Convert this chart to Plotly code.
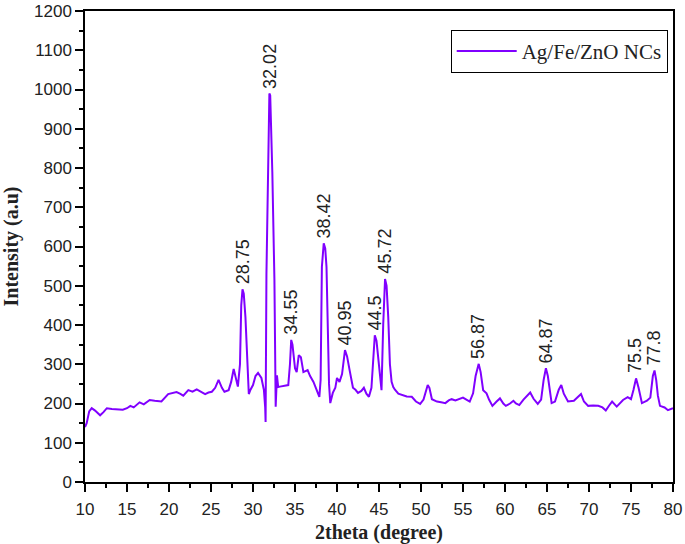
import plotly.graph_objects as go

two_theta = [10.0, 10.2, 10.5, 10.8, 11.2, 11.8, 12.2, 12.6, 13.2, 13.8, 14.5, 15.0, 15.4, 15.8,
             16.5, 17.0, 17.7, 18.3, 19.1, 19.9, 20.4, 20.9, 21.3, 21.7, 22.3, 22.8, 23.3, 23.8,
             24.3, 24.7, 25.1, 25.5, 25.9, 26.3, 26.6, 27.1, 27.4, 27.7, 27.9, 28.2, 28.45, 28.6,
             28.75, 28.9, 29.1, 29.3, 29.5, 29.7, 30.0, 30.3, 30.6, 31.0, 31.3, 31.45, 31.5, 31.6,
             31.8, 31.95, 32.05, 32.3, 32.55, 32.7, 32.85, 33.0, 33.2, 33.6, 34.0, 34.2, 34.4, 34.55,
             34.7, 35.0, 35.2, 35.45, 35.7, 36.0, 36.5, 36.8, 37.2, 37.6, 37.9, 38.05, 38.2, 38.42,
             38.6, 38.75, 38.9, 39.05, 39.2, 39.5, 39.8, 40.0, 40.3, 40.6, 40.95, 41.2, 41.5, 41.9,
             42.2, 42.5, 42.9, 43.2, 43.5, 43.8, 44.1, 44.3, 44.5, 44.7, 44.9, 45.1, 45.3, 45.5,
             45.72, 45.9, 46.1, 46.3, 46.5, 46.7, 46.9, 47.3, 47.7, 48.3, 48.9, 49.4, 49.9, 50.3,
             50.8, 51.0, 51.3, 51.9, 52.4, 52.9, 53.3, 53.65, 54.1, 54.5, 55.0, 55.4, 55.8, 56.2,
             56.5, 56.87, 57.1, 57.4, 57.8, 58.1, 58.5, 59.0, 59.4, 59.8, 60.1, 60.6, 61.0, 61.3,
             61.7, 62.2, 62.6, 63.0, 63.4, 63.9, 64.3, 64.6, 64.87, 65.1, 65.55, 65.95, 66.4, 66.7,
             67.0, 67.5, 68.2, 68.6, 69.05, 69.4, 69.9, 70.5, 71.1, 71.6, 72.0, 72.4, 72.75, 73.3,
             73.7, 74.05, 74.6, 75.0, 75.3, 75.6, 75.9, 76.3, 76.9, 77.3, 77.6, 77.8, 78.0, 78.2,
             78.45, 79.0, 79.4, 79.9, 80.0]
intensity = [140, 150, 180, 188, 182, 170, 178, 188, 186, 185, 184, 188, 194, 190,
             203, 198, 209, 207, 205, 224, 226, 229, 225, 220, 234, 230, 236, 230,
             224, 228, 230, 240, 260, 240, 230, 234, 255, 288, 270, 243, 300, 450,
             491, 480, 420, 310, 224, 235, 247, 270, 278, 265, 234, 190, 153, 530,
             780, 990, 985, 790, 515, 192, 272, 242, 243, 245, 246, 247, 300, 362,
             350, 290, 280, 323, 318, 280, 285, 270, 255, 235, 217, 260, 548, 608,
             595, 548, 387, 250, 201, 227, 240, 265, 255, 275, 336, 320, 285, 240,
             235, 227, 232, 240, 225, 217, 240, 320, 374, 360, 320, 290, 234, 400,
             517, 500, 420, 300, 255, 242, 235, 225, 222, 218, 217, 205, 199, 210,
             247, 240, 211, 205, 203, 201, 208, 211, 208, 212, 215, 210, 205, 226,
             270, 301, 280, 234, 226, 210, 194, 205, 213, 200, 194, 200, 207, 200,
             196, 210, 220, 228, 212, 199, 210, 260, 290, 270, 201, 205, 235, 247,
             225, 205, 207, 215, 224, 205, 194, 195, 194, 190, 182, 195, 205, 192,
             200, 209, 216, 211, 235, 264, 240, 201, 207, 215, 270, 284, 260, 220,
             194, 190, 183, 188, 188]

peak_pos = [28.75, 32.02, 34.55, 38.42, 40.95, 44.5, 45.72, 56.87, 64.87, 75.5, 77.8]
peak_int = [491, 990, 362, 608, 336, 374, 517, 301, 290, 264, 284]
peak_labels = ["28.75", "32.02", "34.55", "38.42", "40.95", "44.5", "45.72", "56.87", "64.87", "75.5", "77.8"]

x_ticks = list(range(10, 81, 5))
y_ticks = list(range(0, 1201, 100))

fig = go.Figure()
fig.add_trace(go.Scatter(
    x=two_theta, y=intensity, mode="lines", name="Ag/Fe/ZnO NCs",
    line=dict(color="#8000ff", width=2),
))

for px, py, lab in zip(peak_pos, peak_int, peak_labels):
    fig.add_annotation(x=px, y=py, text=lab, showarrow=False, textangle=-90,
                       xanchor="center", yanchor="bottom", yshift=3,
                       font=dict(family="Liberation Sans, Arial", size=18, color="#222222"))

axis_common = dict(
    showline=True, linecolor="black", linewidth=1.5, mirror=True,
    ticks="outside", ticklen=8, tickwidth=1.5, tickcolor="black",
    showgrid=False, zeroline=False, automargin=False,
    tickfont=dict(family="Liberation Sans, Arial", size=17, color="#222222"),
)

fig.update_layout(
    width=685, height=544,
    margin=dict(l=85, r=12, t=11, b=62),
    paper_bgcolor="white", plot_bgcolor="white",
    xaxis=dict(range=[10, 80], tickvals=x_ticks, ticktext=[str(v) for v in x_ticks],
               ticklabelstandoff=3,
               minor=dict(dtick=2.5, tick0=10, ticks="outside", ticklen=4, tickcolor="black"),
               title=dict(text="<b>2theta (degree)</b>", standoff=11,
                          font=dict(family="Liberation Serif, Times New Roman", size=20, color="#222222")),
               **axis_common),
    yaxis=dict(range=[0, 1200], tickvals=y_ticks, ticktext=[str(v) for v in y_ticks],
               minor=dict(dtick=50, tick0=0, ticks="outside", ticklen=4, tickcolor="black"),
               title=dict(text="<b>Intensity (a.u)</b>", standoff=24,
                          font=dict(family="Liberation Serif, Times New Roman", size=20, color="#222222")),
               **axis_common),
    legend=dict(x=0.991, y=0.96, xanchor="right", yanchor="top", itemwidth=60,
                bordercolor="black", borderwidth=1, bgcolor="white",
                font=dict(family="Liberation Serif, Times New Roman", size=21, color="#222222")),
    showlegend=True,
)

# remove the default 8px page margin so the figure sits at the window's corner
fig.write_html("out.html", config={"displayModeBar": False},
               post_script="document.body.style.margin='0';")
